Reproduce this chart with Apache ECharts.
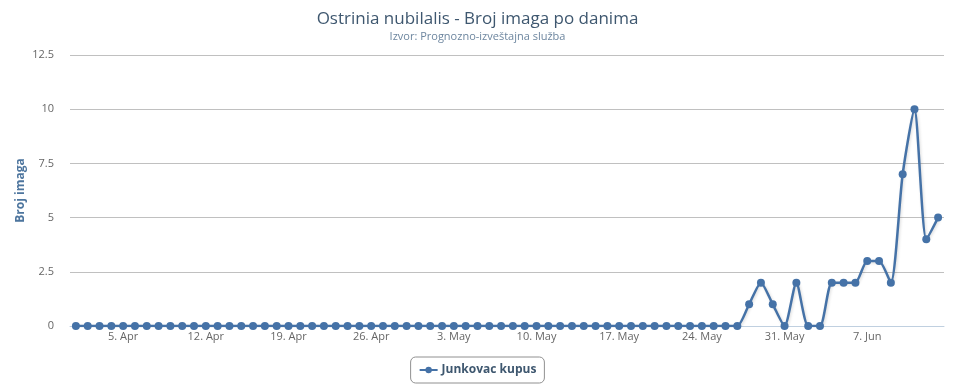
<!DOCTYPE html>
<html>
<head>
<meta charset="utf-8">
<script src="https://cdn.jsdelivr.net/npm/echarts@6/dist/echarts.min.js"></script>
<style>
html,body{margin:0;padding:0;background:#fff;}
#chart{width:955px;height:389px;}
</style>
</head>
<body>
<div id="chart"></div>
<script>
var titleText = 'Ostrinia nubilalis - Broj imaga po danima';
var subtitleText = 'Izvor: Prognozno-izveštajna služba';
var yAxisTitle = 'Broj imaga';
var seriesName = 'Junkovac kupus';

var categories = [
  '1. Apr','2. Apr','3. Apr','4. Apr','5. Apr','6. Apr','7. Apr','8. Apr','9. Apr','10. Apr',
  '11. Apr','12. Apr','13. Apr','14. Apr','15. Apr','16. Apr','17. Apr','18. Apr','19. Apr','20. Apr',
  '21. Apr','22. Apr','23. Apr','24. Apr','25. Apr','26. Apr','27. Apr','28. Apr','29. Apr','30. Apr',
  '1. May','2. May','3. May','4. May','5. May','6. May','7. May','8. May','9. May','10. May',
  '11. May','12. May','13. May','14. May','15. May','16. May','17. May','18. May','19. May','20. May',
  '21. May','22. May','23. May','24. May','25. May','26. May','27. May','28. May','29. May','30. May',
  '31. May','1. Jun','2. Jun','3. Jun','4. Jun','5. Jun','6. Jun','7. Jun','8. Jun','9. Jun',
  '10. Jun','11. Jun','12. Jun','13. Jun'
];

var values = [
  0,0,0,0,0,0,0,0,0,0,
  0,0,0,0,0,0,0,0,0,0,
  0,0,0,0,0,0,0,0,0,0,
  0,0,0,0,0,0,0,0,0,0,
  0,0,0,0,0,0,0,0,0,0,
  0,0,0,0,0,0,0,1,2,1,
  0,2,0,0,2,2,2,3,3,2,
  7,10,4,5
];

var tickLabels = ['5. Apr','12. Apr','19. Apr','26. Apr','3. May','10. May','17. May','24. May','31. May','7. Jun'];

var font = '"Open Sans", "DejaVu Sans", sans-serif';
var lineColor = '#4572A7';

function isTick(idx) {
  return tickLabels.indexOf(categories[idx]) !== -1;
}

var chart = echarts.init(document.getElementById('chart'), null, {renderer: 'canvas'});
chart.setOption({
  animation: false,
  backgroundColor: '#ffffff',
  title: {
    text: titleText,
    subtext: subtitleText,
    left: 'center',
    top: 6,
    itemGap: 3,
    textStyle: {fontFamily: font, fontSize: 17, fontWeight: 'normal', color: '#3E576F'},
    subtextStyle: {fontFamily: font, fontSize: 11, color: '#6D869F'}
  },
  legend: {
    data: [seriesName],
    bottom: 6,
    left: 'center',
    padding: [7, 8, 7, 8],
    borderColor: '#909090',
    borderWidth: 1,
    borderRadius: 5,
    itemWidth: 18,
    itemHeight: 8,
    itemGap: 5,
    textStyle: {fontFamily: font, fontSize: 12, color: '#3E576F', fontWeight: 'bold', padding: [0, 0, 0, -1]}
  },
  grid: {left: 70, right: 11, top: 55, bottom: 63, containLabel: false},
  xAxis: {
    type: 'category',
    data: categories,
    boundaryGap: true,
    axisLine: {lineStyle: {color: '#C0D0E0', width: 1}},
    axisTick: {
      alignWithLabel: true,
      interval: function (idx) { return isTick(idx); },
      length: 5,
      lineStyle: {color: '#C0D0E0'}
    },
    axisLabel: {
      interval: function (idx) { return isTick(idx); },
      fontFamily: font,
      fontSize: 11,
      color: '#666666',
      margin: 5
    },
    splitLine: {show: false}
  },
  yAxis: {
    type: 'value',
    min: 0,
    max: 12.5,
    interval: 2.5,
    name: yAxisTitle,
    nameLocation: 'middle',
    nameGap: 43,
    nameMoveOverlap: false,
    nameTextStyle: {fontFamily: font, fontSize: 12, fontWeight: 'bold', color: '#4d759e'},
    axisLine: {show: false},
    axisTick: {show: false},
    axisLabel: {
      fontFamily: font,
      fontSize: 11,
      color: '#666666',
      margin: 16,
      formatter: function (v) { return String(v); }
    },
    splitLine: {lineStyle: {color: '#C0C0C0', width: 1}}
  },
  series: [{
    name: seriesName,
    type: 'line',
    data: values,
    smooth: 0.22,
    showAllSymbol: true,
    symbol: 'circle',
    symbolSize: 8,
    lineStyle: {color: lineColor, width: 2.5, shadowColor: 'rgba(0,0,0,0.15)', shadowBlur: 3, shadowOffsetX: 1, shadowOffsetY: 1},
    itemStyle: {color: lineColor},
    z: 3
  }]
});
</script>
</body>
</html>
